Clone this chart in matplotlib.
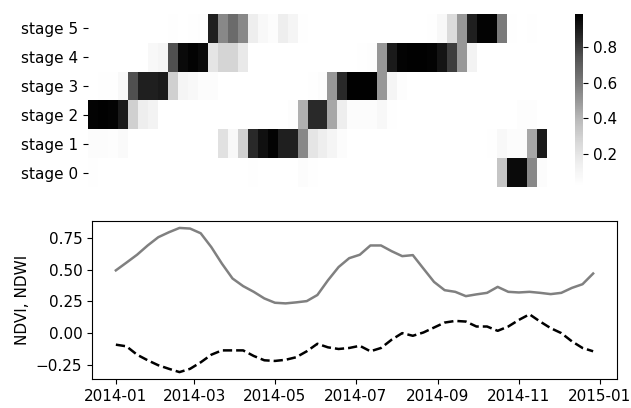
import numpy as np
import matplotlib
matplotlib.use("Agg")
from matplotlib import pyplot as plt

plt.rcParams['font.size'] = 11

# stage probabilities, 46 eight-day composites
stage_labels = ['stage 0', 'stage 1', 'stage 2', 'stage 3', 'stage 4', 'stage 5']

stage0 = [0.03] + [0.01]*15 + [0.03, 0.02, 0.01, 0.01, 0.01, 0.05, 0.03, 0.02] + [0.01]*17 + \
         [0.35, 0.95, 0.95, 0.55, 0.05]
stage1 = [0.05, 0.05, 0.04, 0.06, 0.02] + [0.01]*8 + \
         [0.22, 0.08, 0.30, 0.85, 0.93, 0.97, 0.88, 0.88, 0.55, 0.20, 0.15, 0.10, 0.05] + \
         [0.01]*10 + [0.02, 0.02, 0.02, 0.02, 0.03, 0.08, 0.05, 0.05, 0.45, 0.90]
stage2 = [0.97, 0.98, 0.97, 0.90, 0.30, 0.15, 0.12, 0.02] + [0.01]*12 + \
         [0.04, 0.42, 0.85, 0.85, 0.45, 0.15, 0.05, 0.05, 0.05, 0.08, 0.03] + \
         [0.01]*12 + [0.04, 0.04, 0.01]
stage3 = [0.02, 0.03, 0.03, 0.08, 0.75, 0.88, 0.88, 0.90, 0.30, 0.10, 0.08, 0.05, 0.05] + \
         [0.02]*9 + [0.03, 0.05, 0.50, 0.85, 0.98, 0.98, 0.98, 0.50, 0.10, 0.04] + [0.01]*14
stage4 = [0.01]*6 + [0.08, 0.10, 0.75, 0.95, 0.97, 0.95, 0.20, 0.28, 0.28, 0.18] + \
         [0.02]*11 + [0.03, 0.04, 0.50, 0.90, 0.97, 0.98, 0.98, 0.97, 0.92, 0.80, 0.50, 0.12] + \
         [0.01]*7
stage5 = [0.01]*8 + [0.03, 0.02, 0.03, 0.04, 0.88, 0.55, 0.65, 0.55, 0.15, 0.08, 0.05, 0.15, 0.10,
         0.03, 0.02] + [0.02]*11 + [0.03, 0.08, 0.25, 0.50, 0.88, 0.97, 0.97, 0.60, 0.03, 0.02, 0.03, 0.02]

ndvi = [0.494, 0.555, 0.617, 0.69, 0.755, 0.794, 0.828, 0.823, 0.786, 0.677, 0.547, 0.43,
        0.37, 0.325, 0.273, 0.239, 0.234, 0.242, 0.252, 0.30, 0.416, 0.52, 0.59, 0.617,
        0.69, 0.69, 0.645, 0.606, 0.614, 0.508, 0.403, 0.338, 0.325, 0.291, 0.305, 0.317,
        0.364, 0.325, 0.32, 0.325, 0.317, 0.307, 0.317, 0.356, 0.385, 0.469]
ndwi = [-0.091, -0.104, -0.17, -0.214, -0.253, -0.281, -0.307, -0.281, -0.23, -0.17, -0.136, -0.136,
        -0.136, -0.18, -0.214, -0.219, -0.21, -0.19, -0.143, -0.084, -0.112, -0.125, -0.117, -0.10,
        -0.143, -0.117, -0.052, 0.0, -0.021, 0.005, 0.044, 0.083, 0.096, 0.091, 0.052, 0.052,
        0.018, 0.052, 0.104, 0.148, 0.091, 0.039, 0.0, -0.065, -0.117, -0.143]

dates = np.datetime64('2014-01-01') + np.arange(len(ndvi)) * np.timedelta64(8, 'D')

probs = np.array([stage5, stage4, stage3, stage2, stage1, stage0])

fig = plt.figure(figsize=(6.31, 4.08), dpi=100)

# heatmap on top
ax_h = fig.add_axes([0.1395, 0.5417, 0.7274, 0.424])
cax = fig.add_axes([0.9113, 0.5441, 0.0127, 0.4216])
mesh = ax_h.pcolormesh(probs, cmap='Greys', vmin=0.02, vmax=0.985)
ax_h.set_xlim(0, probs.shape[1])
ax_h.set_ylim(probs.shape[0], 0)
ax_h.set_xticks([])
ax_h.set_yticks(np.arange(probs.shape[0]) + 0.5)
ax_h.set_yticklabels(stage_labels[::-1])
for s in ax_h.spines.values():
    s.set_visible(False)
cb = fig.colorbar(mesh, cax=cax, ticks=[0.2, 0.4, 0.6, 0.8])
cb.outline.set_visible(False)
cb.ax.tick_params(labelsize=11)

# index curves below
ax = fig.add_axes([0.1458, 0.0703, 0.832, 0.3887])
ax.plot(dates, ndvi, color='grey', lw=1.8)
ax.plot(dates, ndwi, color='black', lw=1.8, ls='--')
ax.set_ylabel('NDVI, NDWI')
ax.set_yticks([-0.25, 0.0, 0.25, 0.5, 0.75])

fig.savefig('out.png', dpi=100)
